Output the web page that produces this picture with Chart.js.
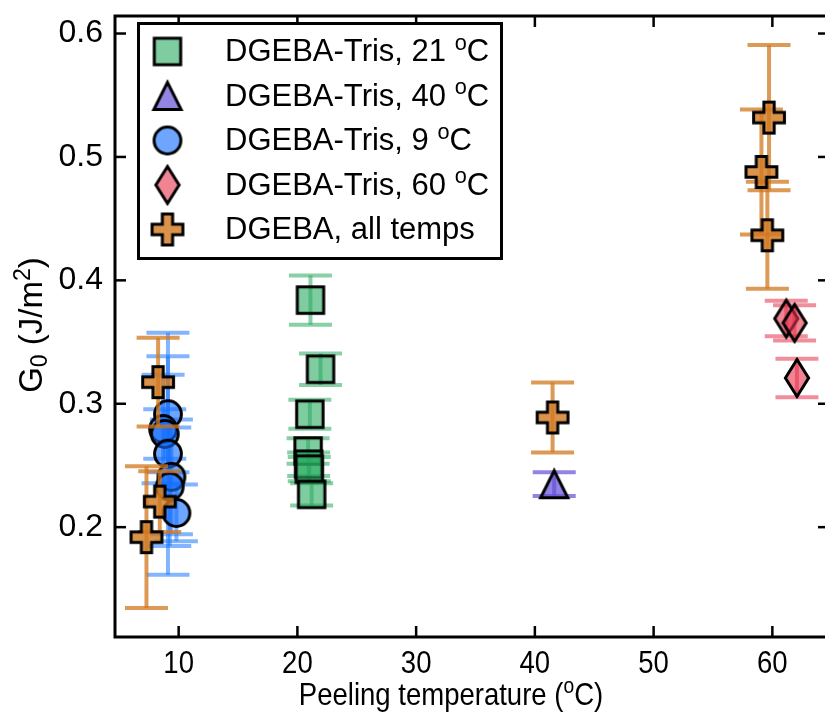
<!DOCTYPE html>
<html>
<head>
<meta charset="utf-8">
<script src="https://cdn.jsdelivr.net/npm/chart.js@4.4.1/dist/chart.umd.min.js"></script>
<style>
  html, body { margin: 0; padding: 0; overflow: hidden; background: #fff; }
  #plot { position: absolute; left: 0; top: 0; }
</style>
</head>
<body>
<canvas id="plot" width="845" height="721"></canvas>
<script>
// ---- data: peel energy G0 (J/m^2) vs peeling temperature (degC), with error bars ----
const xTicks = [10, 20, 30, 40, 50, 60];
const yTicks = [0.2, 0.3, 0.4, 0.5, 0.6];

const seriesNames = [
  'DGEBA-Tris, 21 ^{o}C',
  'DGEBA-Tris, 40 ^{o}C',
  'DGEBA-Tris, 9 ^{o}C',
  'DGEBA-Tris, 60 ^{o}C',
  'DGEBA, all temps'
];

const tris21Temp = [21.1, 21.95, 21.05, 20.9, 20.95, 21.0, 21.2];
const tris21G0   = [0.384, 0.328, 0.2915, 0.2617, 0.251, 0.247, 0.2266];
const tris21Err  = [0.020, 0.0128, 0.0118, 0.0103, 0.0096, 0.0098, 0.009];

const tris40Temp = [41.63];
const tris40G0   = [0.2348];
const tris40Err  = [0.0096];

const tris9Temp = [9.10, 8.69, 8.83, 9.10, 9.39, 9.25, 9.81];
const tris9G0   = [0.2915, 0.2795, 0.2755, 0.2595, 0.2408, 0.2328, 0.2115];
const tris9Err  = [0.047, 0.044, 0.020, 0.098, 0.0465, 0.048, 0.023];

const tris60Temp = [61.17, 61.87, 62.07];
const tris60G0   = [0.369, 0.3655, 0.3209];
const tris60Err  = [0.0144, 0.0143, 0.0156];

const dgebaTemp = [8.27, 8.41, 7.29, 41.49, 59.72, 59.08, 59.58];
const dgebaG0   = [0.3175, 0.2207, 0.1919, 0.2889, 0.5319, 0.4878, 0.4365];
const dgebaErr  = [0.036, 0.0247, 0.0575, 0.0283, 0.0588, 0.0507, 0.0433];

const FONT = "'Liberation Sans', Arial, Helvetica, sans-serif";

// ---- marker glyphs (filled, black edged) rendered to small canvases ----
function makeMarker(kind, fill) {
  const c = document.createElement('canvas');
  let w = 40, h = 40;
  if (kind === 'diamond') { w = 32; h = 50; }
  c.width = w; c.height = h;
  const g = c.getContext('2d');
  const cx = w / 2, cy = h / 2;
  g.beginPath();
  if (kind === 'square') {
    const s = 13.2;
    g.rect(cx - s, cy - s, 2 * s, 2 * s);
  } else if (kind === 'circle') {
    g.arc(cx, cy, 13.4, 0, Math.PI * 2);
  } else if (kind === 'triangle') {
    const s = 13.6;
    g.moveTo(cx, cy - s); g.lineTo(cx + s, cy + s); g.lineTo(cx - s, cy + s); g.closePath();
  } else if (kind === 'diamond') {
    const hh = 18.5, hw = 11.6;
    g.moveTo(cx, cy - hh); g.lineTo(cx + hw, cy); g.lineTo(cx, cy + hh); g.lineTo(cx - hw, cy); g.closePath();
  } else if (kind === 'plus') {
    const a = 15.4, b = a / 3;
    const pts = [[-b,-a],[b,-a],[b,-b],[a,-b],[a,b],[b,b],[b,a],[-b,a],[-b,b],[-a,b],[-a,-b],[-b,-b]];
    pts.forEach((p, i) => i ? g.lineTo(cx + p[0], cy + p[1]) : g.moveTo(cx + p[0], cy + p[1]));
    g.closePath();
  }
  g.fillStyle = fill;
  g.fill();
  g.lineWidth = 3;
  g.lineJoin = 'miter';
  g.strokeStyle = '#000';
  g.stroke();
  return c;
}

function pts(xs, ys) { return xs.map((x, i) => ({ x: x, y: ys[i] })); }

const datasets = [
  { label: seriesNames[0], data: pts(tris21Temp, tris21G0), errors: tris21Err, order: 5,
    errorColor: 'rgba(40,170,95,0.55)', pointStyle: makeMarker('square', 'rgba(40,170,95,0.6)') },
  { label: seriesNames[1], data: pts(tris40Temp, tris40G0), errors: tris40Err, order: 4,
    errorColor: 'rgba(100,80,215,0.7)', pointStyle: makeMarker('triangle', 'rgba(100,80,215,0.7)') },
  { label: seriesNames[2], data: pts(tris9Temp, tris9G0), errors: tris9Err, order: 3,
    errorColor: 'rgba(30,120,255,0.55)', pointStyle: makeMarker('circle', 'rgba(20,110,255,0.62)') },
  { label: seriesNames[3], data: pts(tris60Temp, tris60G0), errors: tris60Err, order: 2,
    errorColor: 'rgba(230,50,75,0.55)', pointStyle: makeMarker('diamond', 'rgba(230,50,75,0.6)') },
  { label: seriesNames[4], data: pts(dgebaTemp, dgebaG0), errors: dgebaErr, order: 1,
    errorColor: 'rgba(210,120,30,0.75)', pointStyle: makeMarker('plus', 'rgba(210,120,30,0.8)') }
];
datasets.forEach(d => { d.pointRadius = 15; d.pointHoverRadius = 15; d.showLine = false; });

// ---- text with ^{sup} and _{sub} runs; sx narrows the run horizontally ----
function parseRich(s) {
  const parts = []; const re = /([\^_])\{([^}]*)\}/g; let last = 0, m;
  while ((m = re.exec(s))) {
    if (m.index > last) parts.push({ t: s.slice(last, m.index), k: 0 });
    parts.push({ t: m[2], k: m[1] === '^' ? 1 : -1 });
    last = re.lastIndex;
  }
  if (last < s.length) parts.push({ t: s.slice(last), k: 0 });
  return parts;
}
function drawRich(ctx, s, x, y, size, align, sx) {
  sx = sx || 1;
  const parts = parseRich(s);
  let total = 0;
  parts.forEach(p => {
    p.size = p.k ? size * 0.7 : size;
    ctx.font = p.size + 'px ' + FONT;
    p.w = ctx.measureText(p.t).width;
    total += p.w;
  });
  ctx.save();
  ctx.translate(x, y);
  ctx.scale(sx, 1);
  let cx = align === 'center' ? -total / 2 : 0;
  ctx.textBaseline = 'alphabetic';
  ctx.textAlign = 'left';
  parts.forEach(p => {
    ctx.font = p.size + 'px ' + FONT;
    const dy = p.k === 1 ? -size * 0.36 : (p.k === -1 ? size * 0.16 : 0);
    ctx.fillText(p.t, cx, dy);
    cx += p.w;
  });
  ctx.restore();
}

// error bars of each series, drawn just beneath its markers
const errorBars = {
  id: 'errorBars',
  beforeDatasetDraw(chart, args) {
    const ds = chart.data.datasets[args.index];
    const xs = chart.scales.x, ys = chart.scales.y, ctx = chart.ctx, a = chart.chartArea;
    const cap = 21.5;
    ctx.save();
    ctx.beginPath(); ctx.rect(a.left, a.top, a.right - a.left, a.bottom - a.top); ctx.clip();
    ctx.strokeStyle = ds.errorColor;
    ctx.lineWidth = 4;
    ctx.lineCap = 'butt';
    ds.data.forEach((p, i) => {
      const px = xs.getPixelForValue(p.x);
      const top = ys.getPixelForValue(p.y + ds.errors[i]);
      const bot = ys.getPixelForValue(p.y - ds.errors[i]);
      [[px, top, px, bot], [px - cap, top, px + cap, top], [px - cap, bot, px + cap, bot]].forEach(s => {
        ctx.beginPath(); ctx.moveTo(s[0], s[1]); ctx.lineTo(s[2], s[3]); ctx.stroke();
      });
    });
    ctx.restore();
  }
};

// box frame with inward ticks on all four sides, plus the x tick labels
const frame = {
  id: 'frame',
  afterDatasetsDraw(chart) {
    const ctx = chart.ctx, a = chart.chartArea, xs = chart.scales.x, ys = chart.scales.y;
    const tl = 11;
    ctx.save();
    ctx.strokeStyle = '#000';
    ctx.lineWidth = 2.5;
    xs.ticks.forEach(t => {
      const px = xs.getPixelForValue(t.value);
      ctx.beginPath(); ctx.moveTo(px, a.bottom); ctx.lineTo(px, a.bottom - tl); ctx.stroke();
      ctx.beginPath(); ctx.moveTo(px, a.top); ctx.lineTo(px, a.top + tl); ctx.stroke();
    });
    ys.ticks.forEach(t => {
      const py = ys.getPixelForValue(t.value);
      ctx.beginPath(); ctx.moveTo(a.left, py); ctx.lineTo(a.left + tl, py); ctx.stroke();
      ctx.beginPath(); ctx.moveTo(a.right, py); ctx.lineTo(a.right - tl, py); ctx.stroke();
    });
    ctx.lineWidth = 3;
    ctx.strokeRect(a.left, a.top, a.right - a.left, a.bottom - a.top);
    ctx.fillStyle = '#000';
    xs.ticks.forEach(t => {
      drawRich(ctx, String(t.label), xs.getPixelForValue(t.value), a.bottom + 36, 32, 'center', 0.86);
    });
    ctx.restore();
  }
};

// axis titles and the boxed legend
const annotations = {
  id: 'annotations',
  afterDraw(chart) {
    const ctx = chart.ctx;
    ctx.save();
    ctx.fillStyle = '#000';
    drawRich(ctx, 'Peeling temperature (^{o}C)', 451, 705, 32, 'center', 0.86);
    ctx.save();
    ctx.translate(30, 325);
    ctx.rotate(-Math.PI / 2);
    drawRich(ctx, 'G_{0} (J/m^{2})', 0, 11.5, 33, 'center');
    ctx.restore();

    // legend
    const bx = 138.5, by = 23.5, bw = 363, bh = 235;
    ctx.fillStyle = '#fff';
    ctx.fillRect(bx, by, bw, bh);
    ctx.lineWidth = 3;
    ctx.strokeStyle = '#000';
    ctx.strokeRect(bx, by, bw, bh);
    ctx.fillStyle = '#000';
    chart.data.datasets.forEach((ds, i) => {
      const cy = 50.5 + i * 44.5;
      const img = ds.pointStyle;
      ctx.drawImage(img, 167.5 - img.width / 2, cy + 1 - img.height / 2);
      drawRich(ctx, ds.label, 225, cy + 10.5, 31, 'left');
    });
    ctx.restore();
  }
};

new Chart(document.getElementById('plot'), {
  type: 'scatter',
  data: { datasets: datasets },
  options: {
    responsive: false,
    animation: false,
    devicePixelRatio: 1,
    layout: { padding: { left: 0, top: 9, right: 12, bottom: 0 } },
    plugins: { legend: { display: false }, tooltip: { enabled: false } },
    scales: {
      x: {
        type: 'linear', position: 'bottom', min: 4.64, max: 64.77,
        afterBuildTicks: s => { s.ticks = xTicks.map(v => ({ value: v })); },
        afterFit: s => { s.height = 84; s.paddingLeft = 0; s.paddingRight = 0; },
        grid: { display: false, drawTicks: false },
        border: { display: false },
        // labels are drawn condensed by the frame plugin
        ticks: { display: false, callback: v => String(v) }
      },
      y: {
        type: 'linear', position: 'left', min: 0.111, max: 0.6142,
        afterBuildTicks: s => { s.ticks = yTicks.map(v => ({ value: v })); },
        afterFit: s => { s.width = 115; s.paddingTop = 0; s.paddingBottom = 0; },
        grid: { display: false, drawTicks: false },
        border: { display: false },
        ticks: { color: '#000', font: { family: FONT, size: 32 }, padding: 12,
                 autoSkip: false, callback: v => v.toFixed(1) }
      }
    }
  },
  plugins: [errorBars, frame, annotations]
});
</script>
</body>
</html>
